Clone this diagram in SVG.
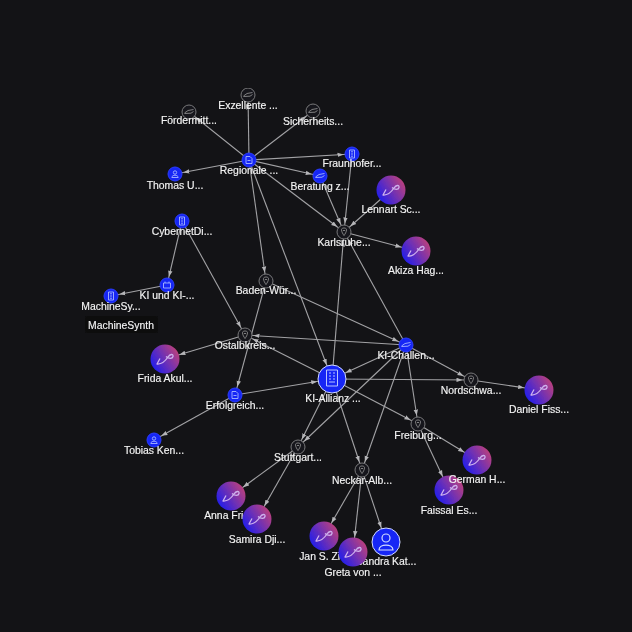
<svg xmlns="http://www.w3.org/2000/svg" width="632" height="632" viewBox="0 0 632 632">
<style>
.e{stroke:#a2a2a5;stroke-width:1.1;fill:none}
.s{marker-end:url(#a8)}
.b{marker-end:url(#a15)}
text{font-family:"Liberation Sans",Arial,sans-serif;font-size:10.4px;fill:#f4f4f4;stroke:#f4f4f4;stroke-width:.15;text-anchor:middle}
.blue{fill:#1226f5;stroke:#2b3cff;stroke-width:1}
.dark{fill:#17171a;stroke:#77777a;stroke-width:1}
.ic{fill:none;stroke:#a9b6ff;stroke-width:.9}
.icd{fill:none;stroke:#8a8a8d;stroke-width:.9}
.lk{fill:none;stroke:#cfb2ee;stroke-width:1.3;stroke-linejoin:round}
</style>
<defs>
<linearGradient id="g" x1="0" y1="1" x2="1" y2="0.35"><stop offset=".1" stop-color="#1a1cf0"/><stop offset=".55" stop-color="#6a2fb8"/><stop offset="1" stop-color="#b8407f"/></linearGradient>
<marker id="a8" markerUnits="userSpaceOnUse" markerWidth="6" markerHeight="6" viewBox="0 0 6 6" refX="14.500" refY="3" orient="auto"><path d="M0 .8L6 3L0 5.200z" fill="#b5b5b8"/></marker>
<marker id="a15" markerUnits="userSpaceOnUse" markerWidth="6" markerHeight="6" viewBox="0 0 6 6" refX="21" refY="3" orient="auto"><path d="M0 .8L6 3L0 5.200z" fill="#b5b5b8"/></marker>
<filter id="soft" x="0" y="0" width="1" height="1"><feGaussianBlur stdDeviation="0.45"/></filter>
<g id="link"><circle r="14.500" fill="url(#g)"/><path class="lk" d="M-5 -.5L-8 5C-3 5.500 0 2.500 3 -2C5 -5 8.500 -5.500 8 -2.500C7.500 0 4 0 1 -2.500"/></g>
<g id="bld"><path class="ic" d="M-2.500 -4H2.500V4H-2.500zM-1 -2.200H1M-1 0H1M-1 2.200H1"/></g>
<g id="doc"><path class="ic" d="M-3 -3.500H1L3 -1.500V3.500H-3zM-1.500 .5H1.500"/></g>
<g id="per"><circle class="ic" cy="-1.500" r="1.700"/><path class="ic" d="M-3.200 3.500C-3.200 .5 3.200 .5 3.200 3.500z"/></g>
<g id="cal"><path class="ic" d="M-3.500 -2H3.500V3H-3.500zM-2 -3.500V-2M2 -3.500V-2"/></g>
<g id="hand"><path class="ic" d="M-4.500 1L-1 -1.500L4.500 -2.500M-4.500 1.500L2 1.200L4.500 -.5"/></g>
<g id="handd"><path class="icd" d="M-4.500 1L-1 -1.500L4.500 -2.500M-4.500 1.500L2 1.200L4.500 -.5"/></g>
<g id="pin"><path class="icd" d="M-2.500 -2.500C-2.500 -4.500 2.500 -4.500 2.500 -2.500C2.500 0 1 2 0 3.500C-1 2 -2.500 0 -2.500 -2.500zM-1 -1.500H1"/></g>
</defs>
<rect width="632" height="632" fill="#131316"/>
<g filter="url(#soft)">
<g id="connectors">
<line class="e s" x1="249" y1="160" x2="189" y2="112"/>
<line class="e s" x1="249" y1="160" x2="248" y2="95"/>
<line class="e s" x1="249" y1="160" x2="313" y2="111"/>
<line class="e s" x1="249" y1="160" x2="175" y2="174"/>
<line class="e s" x1="249" y1="160" x2="352" y2="154"/>
<line class="e s" x1="249" y1="160" x2="320" y2="176"/>
<line class="e s" x1="249" y1="160" x2="344" y2="232"/>
<line class="e s" x1="249" y1="160" x2="266" y2="281"/>
<line class="e b" x1="249" y1="160" x2="332" y2="379"/>
<line class="e s" x1="352" y1="154" x2="344" y2="232"/>
<line class="e s" x1="320" y1="176" x2="344" y2="232"/>
<line class="e s" x1="391" y1="190" x2="344" y2="232"/>
<line class="e b" x1="344" y1="232" x2="416" y2="251"/>
<line class="e s" x1="332" y1="379" x2="344" y2="232"/>
<line class="e s" x1="406" y1="345" x2="344" y2="232"/>
<line class="e s" x1="266" y1="281" x2="235" y2="395"/>
<line class="e s" x1="266" y1="281" x2="406" y2="345"/>
<line class="e s" x1="182" y1="221" x2="167" y2="285"/>
<line class="e s" x1="182" y1="221" x2="245" y2="335"/>
<line class="e s" x1="167" y1="285" x2="111" y2="296"/>
<line class="e b" x1="245" y1="335" x2="165" y2="359"/>
<line class="e s" x1="406" y1="345" x2="245" y2="335"/>
<line class="e s" x1="332" y1="379" x2="245" y2="335"/>
<line class="e b" x1="235" y1="395" x2="332" y2="379"/>
<line class="e s" x1="235" y1="395" x2="154" y2="440"/>
<line class="e b" x1="406" y1="345" x2="332" y2="379"/>
<line class="e s" x1="332" y1="379" x2="471" y2="380"/>
<line class="e s" x1="406" y1="345" x2="471" y2="380"/>
<line class="e b" x1="471" y1="380" x2="539" y2="390"/>
<line class="e s" x1="406" y1="345" x2="418" y2="424"/>
<line class="e s" x1="332" y1="379" x2="418" y2="424"/>
<line class="e s" x1="406" y1="345" x2="362" y2="470"/>
<line class="e s" x1="332" y1="379" x2="362" y2="470"/>
<line class="e s" x1="406" y1="345" x2="298" y2="447"/>
<line class="e s" x1="332" y1="379" x2="298" y2="447"/>
<line class="e b" x1="418" y1="424" x2="477" y2="460"/>
<line class="e b" x1="418" y1="424" x2="449" y2="490"/>
<line class="e b" x1="298" y1="447" x2="231" y2="496"/>
<line class="e b" x1="298" y1="447" x2="257" y2="519"/>
<line class="e b" x1="362" y1="470" x2="324" y2="536"/>
<line class="e b" x1="362" y1="470" x2="353" y2="552"/>
<line class="e b" x1="362" y1="470" x2="386" y2="542"/>
</g>
<g id="n-foerder"><circle class="dark" cx="189" cy="112" r="7"/><use href="#handd" x="189" y="112"/><text x="189" y="124">Fördermitt...</text></g>
<g id="n-exzellente"><circle class="dark" cx="248" cy="95" r="7"/><use href="#handd" x="248" y="95"/><text x="248" y="109">Exzellente ...</text></g>
<g id="n-sicherheits"><circle class="dark" cx="313" cy="111" r="7"/><use href="#handd" x="313" y="111"/><text x="313" y="125">Sicherheits...</text></g>
<g id="n-regionale"><circle class="blue" cx="249" cy="160" r="7"/><use href="#doc" x="249" y="160"/><text x="249" y="174">Regionale ...</text></g>
<g id="n-thomas"><circle class="blue" cx="175" cy="174" r="7"/><use href="#per" x="175" y="174"/><text x="175" y="189">Thomas U...</text></g>
<g id="n-fraunhofer"><circle class="blue" cx="352" cy="154" r="7"/><use href="#bld" x="352" y="154"/><text x="352" y="167">Fraunhofer...</text></g>
<g id="n-beratung"><circle class="blue" cx="320" cy="176" r="7"/><use href="#hand" x="320" y="176"/><text x="320" y="190">Beratung z...</text></g>
<g id="n-lennart"><use href="#link" x="391" y="190"/><text x="391" y="213">Lennart Sc...</text></g>
<g id="n-karlsruhe"><circle class="dark" cx="344" cy="232" r="7"/><use href="#pin" x="344" y="232"/><text x="344" y="246">Karlsruhe...</text></g>
<g id="n-akiza"><use href="#link" x="416" y="251"/><text x="416" y="274">Akiza Hag...</text></g>
<g id="n-cybernet"><circle class="blue" cx="182" cy="221" r="7"/><use href="#bld" x="182" y="221"/><text x="182" y="235">CybernetDi...</text></g>
<g id="n-kiund"><circle class="blue" cx="167" cy="285" r="7"/><use href="#cal" x="167" y="285"/><text x="167" y="299">KI und KI-...</text></g>
<g id="n-machinesy"><circle class="blue" cx="111" cy="296" r="7"/><use href="#bld" x="111" y="296"/><text x="111" y="310">MachineSy...</text></g>
<g id="tooltip"><rect x="85" y="316" width="73" height="17" rx="2" fill="#0b0b0d"/><text x="121" y="329">MachineSynth</text></g>
<g id="n-baden"><circle class="dark" cx="266" cy="281" r="7"/><use href="#pin" x="266" y="281"/><text x="266" y="294">Baden-Wür...</text></g>
<g id="n-ostalb"><circle class="dark" cx="245" cy="335" r="7"/><use href="#pin" x="245" y="335"/><text x="245" y="349">Ostalbkreis...</text></g>
<g id="n-kichallenge"><circle class="blue" cx="406" cy="345" r="7"/><use href="#hand" x="406" y="345"/><text x="406" y="359">KI-Challen...</text></g>
<g id="n-frida"><use href="#link" x="165" y="359"/><text x="165" y="382">Frida Akul...</text></g>
<g id="n-kiallianz"><circle cx="332" cy="379" r="14" fill="#1226f5" stroke="#d5dcff" stroke-width="1"/><path d="M326.500 370H337.500V386H326.500zM329 373H331M333 373H335M329 376H331M333 376H335M329 379H331M333 379H335M329 382H335" fill="none" stroke="#b9c4ff" stroke-width="1"/><text x="333" y="402">KI-Allianz ...</text></g>
<g id="n-erfolgreich"><circle class="blue" cx="235" cy="395" r="7"/><use href="#doc" x="235" y="395"/><text x="235" y="409">Erfolgreich...</text></g>
<g id="n-tobias"><circle class="blue" cx="154" cy="440" r="7"/><use href="#per" x="154" y="440"/><text x="154" y="454">Tobias Ken...</text></g>
<g id="n-nordschwa"><circle class="dark" cx="471" cy="380" r="7"/><use href="#pin" x="471" y="380"/><text x="471" y="394">Nordschwa...</text></g>
<g id="n-daniel"><use href="#link" x="539" y="390"/><text x="539" y="413">Daniel Fiss...</text></g>
<g id="n-freiburg"><circle class="dark" cx="418" cy="424" r="7"/><use href="#pin" x="418" y="424"/><text x="418" y="439">Freiburg...</text></g>
<g id="n-faissal"><use href="#link" x="449" y="490"/><text x="449" y="514">Faissal Es...</text></g>
<g id="n-german"><use href="#link" x="477" y="460"/><text x="477" y="483">German H...</text></g>
<g id="n-stuttgart"><circle class="dark" cx="298" cy="447" r="7"/><use href="#pin" x="298" y="447"/><text x="298" y="461">Stuttgart...</text></g>
<g id="n-neckar"><circle class="dark" cx="362" cy="470" r="7"/><use href="#pin" x="362" y="470"/><text x="362" y="484">Neckar-Alb...</text></g>
<g id="n-anna"><use href="#link" x="231" y="496"/><text x="231" y="519">Anna Frie...</text></g>
<g id="n-samira"><use href="#link" x="257" y="519"/><text x="257" y="543">Samira Dji...</text></g>
<g id="n-jan"><use href="#link" x="324" y="536"/><text x="324" y="560">Jan S. Zi...</text></g>
<g id="n-sandra"><circle cx="386" cy="542" r="14" fill="#1226f5" stroke="#d5dcff" stroke-width="1"/><circle cx="386" cy="538" r="4" fill="none" stroke="#d5dcff" stroke-width="1.200"/><path d="M379 550C379 543.500 393 543.500 393 550z" fill="none" stroke="#d5dcff" stroke-width="1.200"/><text x="386" y="565">Sandra Kat...</text></g>
<g id="n-greta"><use href="#link" x="353" y="552"/><text x="353" y="576">Greta von ...</text></g>
</g>
</svg>
